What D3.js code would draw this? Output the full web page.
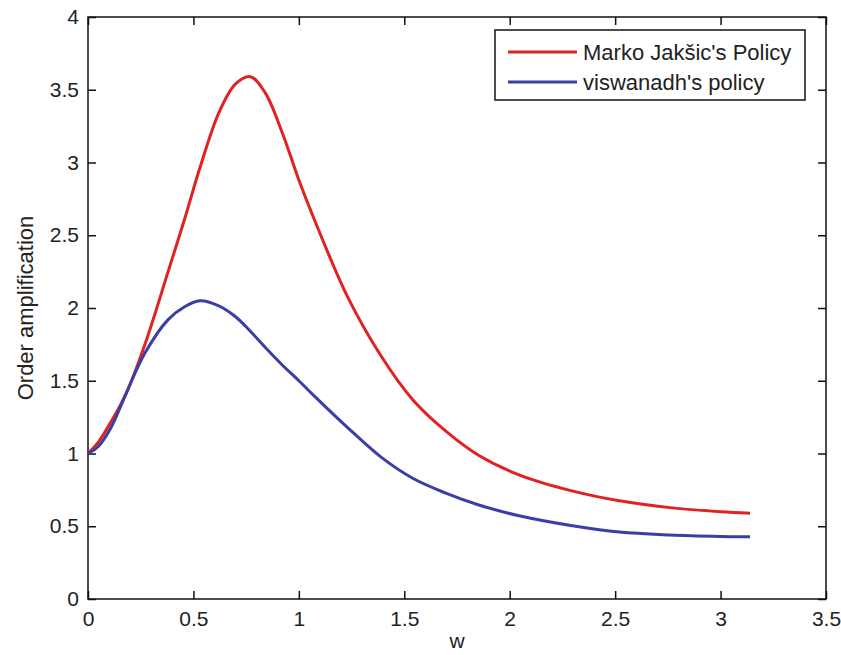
<!DOCTYPE html>
<html>
<head>
<meta charset="utf-8">
<script src="https://cdn.jsdelivr.net/npm/d3@7"></script>
<style>
  body { margin: 0; background: #fff; }
  text { font-family: "Liberation Sans", Arial, sans-serif; fill: #222; }
</style>
</head>
<body>
<script>
// frequency w
const wValues = [0, 0.05, 0.11, 0.18, 0.27, 0.38, 0.46, 0.53, 0.62, 0.70, 0.77, 0.84, 0.92, 1.00,
  1.07, 1.23, 1.39, 1.54, 1.70, 1.85, 2.05, 2.29, 2.52, 2.76, 3.00, 3.14];
// order amplification
const jaksicValues = [1.0, 1.08, 1.22, 1.41, 1.75, 2.25, 2.62, 2.96, 3.34, 3.54, 3.59, 3.48, 3.21, 2.88,
  2.62, 2.08, 1.67, 1.37, 1.15, 0.99, 0.85, 0.745, 0.675, 0.628, 0.60, 0.59];
const viswanadhValues = [1.0, 1.05, 1.18, 1.41, 1.69, 1.92, 2.01, 2.05, 2.015, 1.94, 1.84, 1.73, 1.61, 1.50,
  1.40, 1.18, 0.975, 0.83, 0.726, 0.648, 0.57, 0.505, 0.46, 0.44, 0.43, 0.427];
const seriesNames = ["Marko Jakšic's Policy", "viswanadh's policy"];
const xTicks = [0, 0.5, 1, 1.5, 2, 2.5, 3, 3.5];
const yTicks = [0, 0.5, 1, 1.5, 2, 2.5, 3, 3.5, 4];

const colors = ["#e02222", "#3a3ea6"];
const width = 841, height = 655;
const margin = {left: 88, right: 15, top: 17, bottom: 56};

const svg = d3.select("body").append("svg")
  .attr("width", width)
  .attr("height", height);

const xScale = d3.scaleLinear().domain([0, 3.5]).range([margin.left, width - margin.right]);
const yScale = d3.scaleLinear().domain([0, 4]).range([height - margin.bottom, margin.top]);

const x0 = xScale(0), x1 = xScale(3.5), y0 = yScale(0), y1 = yScale(4);

// box
svg.append("rect")
  .attr("x", x0).attr("y", y1)
  .attr("width", x1 - x0).attr("height", y0 - y1)
  .attr("fill", "none").attr("stroke", "#111").attr("stroke-width", 1.5);

const tickLen = 8;
// ticks inward, MATLAB style
const xAxisB = d3.axisBottom(xScale).tickValues(xTicks).tickSize(-tickLen).tickPadding(12)
  .tickFormat(d3.format("~g"));
const xAxisT = d3.axisTop(xScale).tickValues(xTicks).tickSize(-tickLen).tickFormat("");
const yAxisL = d3.axisLeft(yScale).tickValues(yTicks).tickSize(-tickLen).tickPadding(9)
  .tickFormat(d3.format("~g"));
const yAxisR = d3.axisRight(yScale).tickValues(yTicks).tickSize(-tickLen).tickFormat("");

function style(g) {
  g.select(".domain").remove();
  g.selectAll(".tick line").attr("stroke", "#111").attr("stroke-width", 1.5);
  g.selectAll(".tick text").style("font-size", "21px").attr("fill", "#222")
    .style("font-family", "'Liberation Sans', Arial, sans-serif");
}

svg.append("g").attr("transform", "translate(0," + y0 + ")").call(xAxisB).call(style);
svg.append("g").attr("transform", "translate(0," + y1 + ")").call(xAxisT).call(style);
svg.append("g").attr("transform", "translate(" + x0 + ",0)").call(yAxisL).call(style);
svg.append("g").attr("transform", "translate(" + x1 + ",0)").call(yAxisR).call(style);

// axis labels
svg.append("text")
  .attr("x", (x0 + x1) / 2)
  .attr("y", 648)
  .style("text-anchor", "middle")
  .style("font-size", "21px")
  .text("w");

svg.append("text")
  .attr("transform", "translate(33," + ((y0 + y1) / 2) + ") rotate(-90)")
  .style("text-anchor", "middle")
  .style("font-size", "22px")
  .text("Order amplification");

const line = d3.line()
  .x((d) => xScale(d[0]))
  .y((d) => yScale(d[1]))
  .curve(d3.curveCatmullRom.alpha(0.5));

const allSeries = [jaksicValues, viswanadhValues];
allSeries.forEach((vals, i) => {
  svg.append("path")
    .datum(wValues.map((w, j) => [w, vals[j]]))
    .attr("d", line)
    .attr("fill", "none")
    .attr("stroke", colors[i])
    .attr("stroke-width", 3);
});

// legend
const legend = svg.append("g").attr("transform", "translate(495,30)");
legend.append("rect")
  .attr("width", 310).attr("height", 70)
  .attr("fill", "#fff").attr("stroke", "#111").attr("stroke-width", 1.5);

seriesNames.forEach((name, i) => {
  const y = 22 + i * 30;
  legend.append("line")
    .attr("x1", 13).attr("x2", 82)
    .attr("y1", y).attr("y2", y)
    .attr("stroke", colors[i]).attr("stroke-width", 3);
  legend.append("text")
    .attr("x", 88).attr("y", y + 8)
    .style("font-size", "22px")
    .text(name);
});
</script>
</body>
</html>
